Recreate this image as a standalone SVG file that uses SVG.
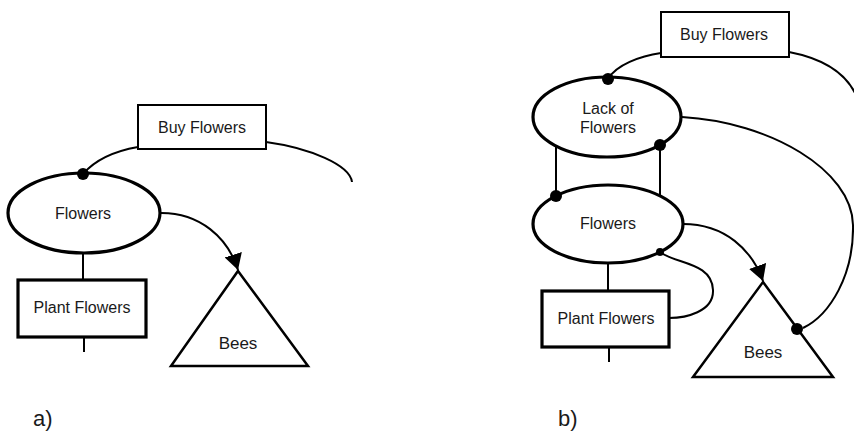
<svg xmlns="http://www.w3.org/2000/svg" width="854" height="435" viewBox="0 0 854 435">
  <style>
    .lbl { font-family: "Liberation Sans", Arial, sans-serif; font-size: 16px; fill: #1a1a1a; text-anchor: middle; }
    .cap { font-family: "Liberation Sans", Arial, sans-serif; font-size: 22px; fill: #1a1a1a; }
    .oval { fill: #fff; stroke: #000; stroke-width: 3.2; }
    .box { fill: #fff; stroke: #000; stroke-width: 2; }
    .thick { fill: #fff; stroke: #000; stroke-width: 3.2; }
    .tri { fill: #fff; stroke: #000; stroke-width: 2.5; stroke-linejoin: miter; }
    .link { fill: none; stroke: #000; stroke-width: 2; }
    .dot { fill: #000; }
  </style>
  <defs>
    <marker id="arrow" viewBox="0 0 16 18" refX="16" refY="9" markerWidth="16" markerHeight="18" markerUnits="userSpaceOnUse" orient="auto">
      <path d="M0,0 L16,9 L0,18 Z" fill="#000"/>
    </marker>
  </defs>

  <!-- ===== Panel a ===== -->
  <g id="a-connectors">
    <path class="link" d="M138,147 C115,151 95,160 83,174"/>
    <path class="link" d="M266,142 C310,148 350,165 352,182"/>
    <path class="link" d="M159,213 C200,212 228,238 238,270" marker-end="url(#arrow)"/>
    <line class="link" x1="83" y1="253" x2="83" y2="280"/>
    <line class="link" x1="84" y1="337" x2="84" y2="352"/>
  </g>
  <g id="a-buy-flowers">
    <rect class="box" x="138" y="105" width="128" height="44"/>
    <text class="lbl" x="202" y="133">Buy Flowers</text>
  </g>
  <g id="a-flowers">
    <ellipse class="oval" cx="84" cy="213" rx="76" ry="40"/>
    <text class="lbl" x="83" y="219">Flowers</text>
    <circle class="dot" cx="83" cy="174" r="6"/>
  </g>
  <g id="a-plant-flowers">
    <rect class="thick" x="18" y="280" width="128" height="57"/>
    <text class="lbl" x="82" y="313">Plant Flowers</text>
  </g>
  <g id="a-bees">
    <polygon class="tri" points="238,271 308,366 171,366"/>
    <text class="lbl" x="238" y="349" style="font-size:17px">Bees</text>
  </g>
  <text class="cap" x="33" y="426">a)</text>

  <!-- ===== Panel b ===== -->
  <g id="b-connectors">
    <path class="link" d="M661,53 C640,56 616,65 608,79"/>
    <path class="link" d="M789,52 C820,58 848,72 858,100"/>
    <path class="link" d="M682,117 C770,122 852,170 853,225 C854,275 830,315 803,328"/>
    <line class="link" x1="556" y1="146" x2="556" y2="197"/>
    <line class="link" x1="660" y1="145" x2="660" y2="196"/>
    <path class="link" d="M683,224 C725,224 752,250 763,281" marker-end="url(#arrow)"/>
    <path class="link" d="M660,252 C675,264 712,262 713,290 C714,312 685,318 669,318"/>
    <line class="link" x1="608" y1="263" x2="608" y2="291"/>
    <line class="link" x1="609" y1="347" x2="609" y2="362"/>
  </g>
  <g id="b-buy-flowers">
    <rect class="box" x="661" y="12" width="128" height="45"/>
    <text class="lbl" x="724" y="40">Buy Flowers</text>
  </g>
  <g id="b-lack-of-flowers">
    <ellipse class="oval" cx="607" cy="117" rx="74" ry="40"/>
    <text class="lbl" x="608" y="114">Lack of</text>
    <text class="lbl" x="608" y="133">Flowers</text>
    <circle class="dot" cx="608" cy="79" r="6"/>
    <circle class="dot" cx="660" cy="145" r="6"/>
  </g>
  <g id="b-flowers">
    <ellipse class="oval" cx="608" cy="224" rx="75" ry="39"/>
    <text class="lbl" x="608" y="229">Flowers</text>
    <circle class="dot" cx="556" cy="196" r="6"/>
    <circle class="dot" cx="660" cy="252" r="4"/>
  </g>
  <g id="b-plant-flowers">
    <rect class="thick" x="542" y="291" width="127" height="56"/>
    <text class="lbl" x="606" y="324">Plant Flowers</text>
  </g>
  <g id="b-bees">
    <polygon class="tri" points="763,282 833,377 693,377"/>
    <text class="lbl" x="763" y="358" style="font-size:17px">Bees</text>
    <circle class="dot" cx="797" cy="329" r="6"/>
  </g>
  <text class="cap" x="558" y="426">b)</text>
</svg>
